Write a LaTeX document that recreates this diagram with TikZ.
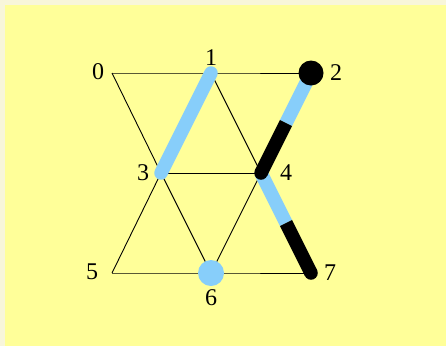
\documentclass[tikz,border=0pt]{standalone}
\usepackage{fontspec}
\setmainfont{Liberation Serif}
\usetikzlibrary{calc}
\begin{document}
\begin{tikzpicture}[x=1pt,y=-1pt,
  lbl/.style={font=\fontsize{24}{24}\selectfont, inner sep=0pt},
  thin edge/.style={draw=black, line width=0.9pt},
  blueband/.style={draw=bandblue, line width=13.5pt, line cap=butt},
  blackband/.style={draw=black, line width=13.5pt, line cap=butt},
  pt/.style={coordinate}]
\definecolor{bandblue}{RGB}{135,206,250}
\definecolor{bgyellow}{RGB}{255,255,153}
\definecolor{bgcream}{RGB}{248,246,218}
\useasboundingbox (0,0) rectangle (446,346);
\fill[bgcream] (0,0) rectangle (446,346);
\fill[bgyellow] (5,5) rectangle (446,346);
\node[pt] (n0) at (112,73) {};
\node[pt] (n1) at (211,73) {};
\node[pt] (n2) at (311,73) {};
\node[pt] (n3) at (161,173) {};
\node[pt] (n4) at (261,173) {};
\node[pt] (n5) at (112,273) {};
\node[pt] (n6) at (211,273) {};
\node[pt] (n7) at (311,273) {};
\coordinate (m24) at ($(n2)!0.5!(n4)$);
\coordinate (m47) at ($(n4)!0.5!(n7)$);
% thin edges
\path[thin edge] (n0) -- (n1) -- (n2);
\path[thin edge] (n0) -- (n3);
\path[thin edge] (n1) -- (n4);
\path[thin edge] (n3) -- (n4);
\path[thin edge] (n3) -- (n5);
\path[thin edge] (n3) -- (n6);
\path[thin edge] (n4) -- (n6);
\path[thin edge] (n5) -- (n6) -- (n7);
% thick bands
\path[blueband, line cap=round] (n1) -- (n3);
\path[blueband] (n4) -- (m47);
\path[blackband] (m47) -- (n7);
\fill[black] (n7) circle (6.75);
\path[blueband] (n2) -- (m24);
\path[blackband] (m24) -- (n4);
\fill[black] (n4) circle (6.75);
% dots
\fill[black] (n2) circle (12.5);
\fill[bandblue] (n6) circle (13);
% labels
\node[lbl] (l0) at (98,72) {0};
\node[lbl] (l1) at (211,58) {1};
\node[lbl] (l2) at (336,73) {2};
\node[lbl] (l3) at (143,173) {3};
\node[lbl] (l4) at (286,173) {4};
\node[lbl] (l5) at (92,272) {5};
\node[lbl] (l6) at (211,298) {6};
\node[lbl] (l7) at (330,273) {7};
\end{tikzpicture}
\end{document}
